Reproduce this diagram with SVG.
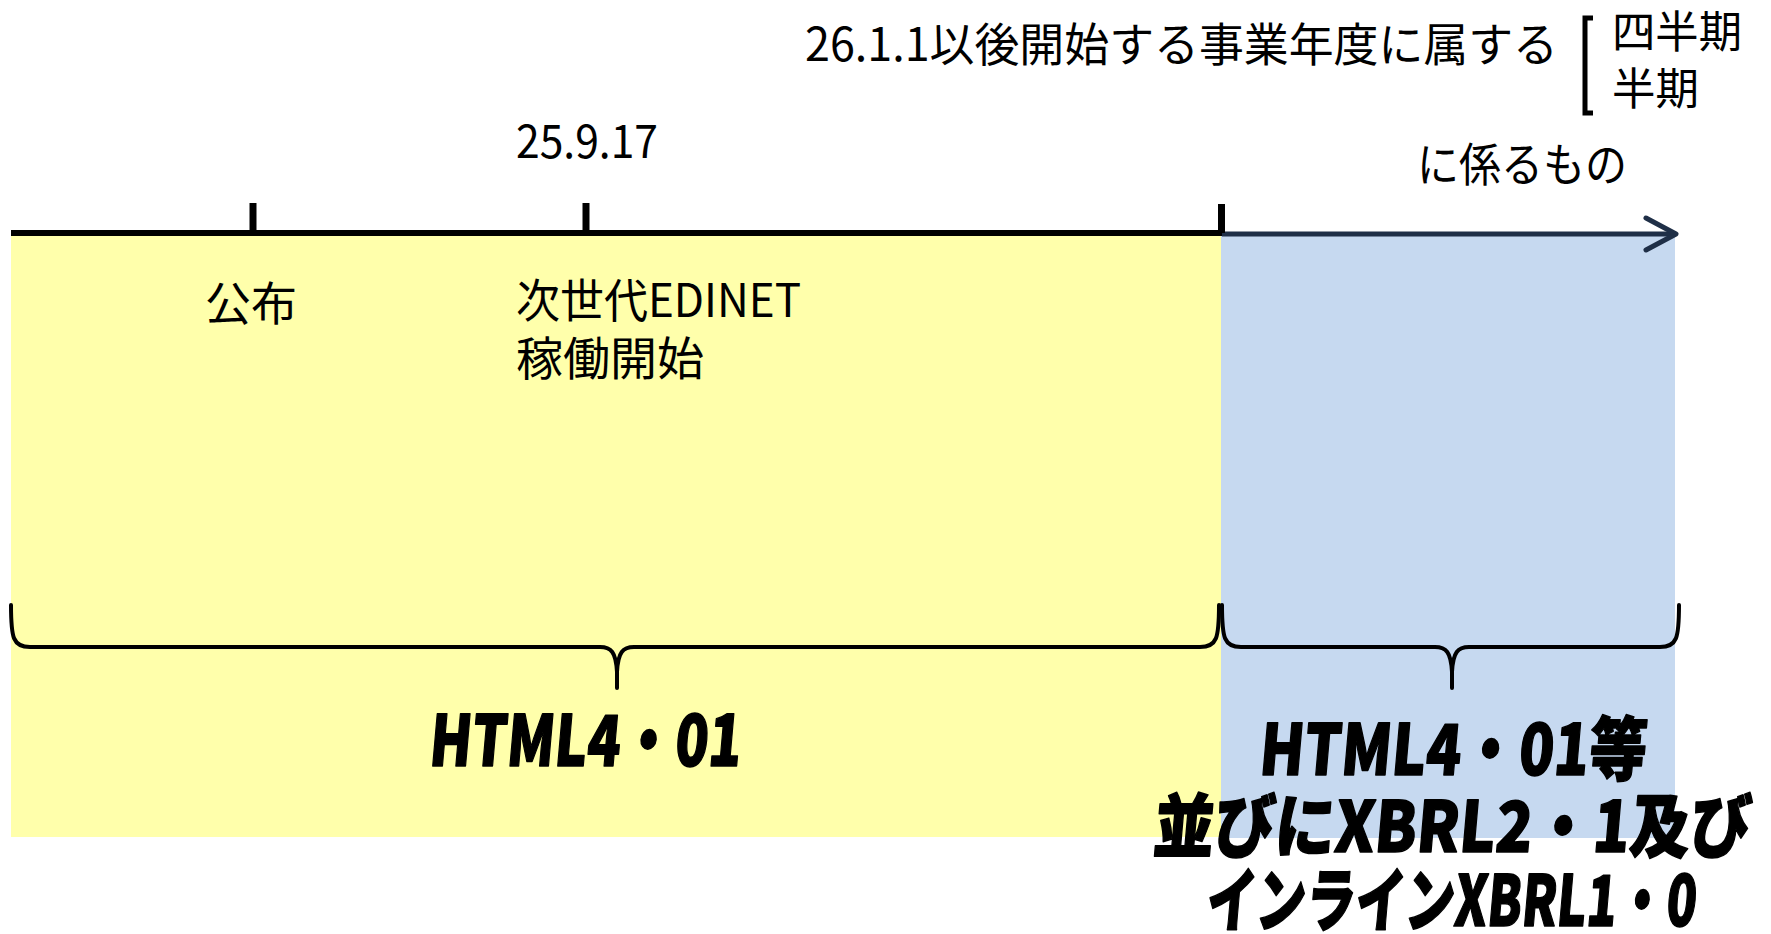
<svg xmlns="http://www.w3.org/2000/svg" width="1771" height="934" viewBox="0 0 1771 934">
<defs>
<style>
.t{font-family:"Noto Sans CJK JP","Noto Sans",sans-serif;font-size:46px;fill:#000}
.b{font-family:"Noto Sans CJK JP","Noto Sans",sans-serif;font-size:70px;font-weight:900;fill:#000;stroke:#000;stroke-width:1.5;stroke-linejoin:round}
.tick{stroke:#000;stroke-width:7}
.brace{fill:none;stroke:#000;stroke-width:4;stroke-linecap:round;stroke-linejoin:round}
</style>
</defs>
<rect x="0" y="0" width="1771" height="934" fill="#fff"/>
<g id="period-before">
<rect x="11" y="236" width="1210" height="601" fill="#FFFFAB"/>
</g>
<g id="period-after">
<rect x="1221" y="236" width="454" height="602" fill="#C6D9F0"/>
</g>
<g id="connectors">
<line x1="11" y1="233" x2="1222" y2="233" stroke="#000" stroke-width="6"/>
<line x1="1222" y1="234" x2="1674" y2="234" stroke="#1F2F47" stroke-width="5"/>
<polyline points="1646,218 1676,234 1646,250" fill="none" stroke="#1F2F47" stroke-width="5" stroke-linecap="round" stroke-linejoin="round"/>
<line class="tick" x1="253" y1="203" x2="253" y2="233"/>
<line class="tick" x1="586" y1="203" x2="586" y2="233"/>
<line class="tick" x1="1221.5" y1="204" x2="1221.5" y2="233"/>
<path class="brace" d="M11,605 C11,638 13,647 30,647 L600,647 C611,647 616,652 617,672 L617,688 M617,672 C618,652 623,647 634,647 L1200,647 C1217,647 1219,638 1219,605"/>
<path class="brace" d="M1222,605 C1222,638 1224,647 1241,647 L1435,647 C1446,647 1451,652 1452,672 L1452,688 M1452,672 C1453,652 1458,647 1469,647 L1660,647 C1677,647 1679,638 1679,605"/>
<path d="M1593,18 L1585,18 L1585,113 L1593,113" fill="none" stroke="#000" stroke-width="5"/>
</g>
<g id="label-top">
<text class="t" x="805" y="61" textLength="753" lengthAdjust="spacingAndGlyphs">26.1.1以後開始する事業年度に属する</text>
<text class="t" x="1612" y="48" style="font-size:44px" textLength="130" lengthAdjust="spacingAndGlyphs">四半期</text>
<text class="t" x="1612" y="105" style="font-size:44px" textLength="87" lengthAdjust="spacingAndGlyphs">半期</text>
<text class="t" x="1417" y="181" textLength="210" lengthAdjust="spacingAndGlyphs">に係るもの</text>
</g>
<g id="label-date">
<text class="t" x="516" y="158" textLength="142" lengthAdjust="spacingAndGlyphs">25.9.17</text>
</g>
<g id="label-publish">
<text class="t" x="205" y="320">公布</text>
</g>
<g id="label-edinet">
<text class="t" x="516" y="317" textLength="285" lengthAdjust="spacingAndGlyphs">次世代EDINET</text>
<text class="t" x="516" y="375" textLength="188" lengthAdjust="spacingAndGlyphs">稼働開始</text>
</g>
<g id="label-html">
<text class="b" transform="translate(428,766) skewX(-5)" textLength="312" lengthAdjust="spacingAndGlyphs">HTML4・01</text>
</g>
<g id="label-xbrl">
<text class="b" transform="translate(1258,775) skewX(-5)" textLength="387" lengthAdjust="spacingAndGlyphs">HTML4・01等</text>
<text class="b" transform="translate(1152,852) skewX(-5)" textLength="597" lengthAdjust="spacingAndGlyphs">並びにXBRL2・1及び</text>
<text class="b" transform="translate(1205,926) skewX(-5)" textLength="490" lengthAdjust="spacingAndGlyphs">インラインXBRL1・0</text>
</g>
</svg>
